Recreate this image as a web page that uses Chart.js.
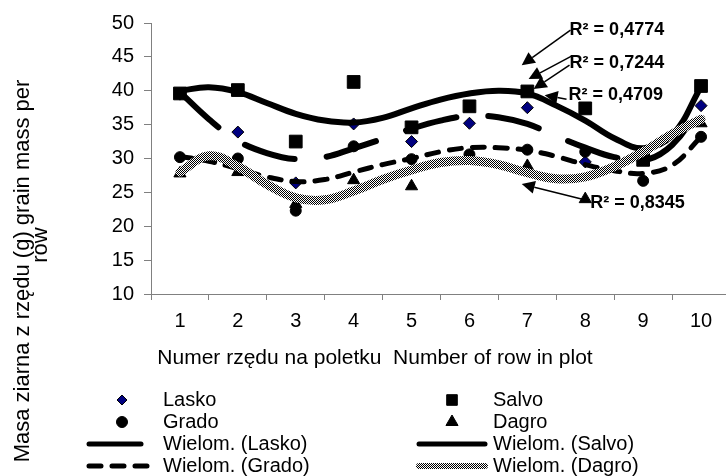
<!DOCTYPE html>
<html><head><meta charset="utf-8">
<script src="https://cdn.jsdelivr.net/npm/chart.js@4/dist/chart.umd.min.js"></script>
<style>html,body{margin:0;padding:0;overflow:hidden;background:#fff;width:726px;height:476px}canvas{display:block}</style>
</head><body>
<canvas id="c" width="740" height="476"></canvas>
<script>
// ---- data ----
const categories = ['1','2','3','4','5','6','7','8','9','10'];
const rowNumbers = [1,2,3,4,5,6,7,8,9,10];
const lasko = [39.5, 33.9, 26.4, 35.1, 32.5, 35.2, 37.5, 29.5, 29.8, 37.8];
const salvo = [39.6, 40.1, 32.5, 41.3, 34.6, 37.7, 39.9, 37.4, 29.8, 40.7];
const grado = [30.2, 30.0, 22.3, 31.8, 29.9, 30.6, 31.3, 31.0, 26.7, 33.2];
const dagro = [27.8, 28.0, 23.3, 26.8, 25.9, 30.3, 28.9, 24.0, 30.5, 35.2];
const trendX = [1,1.5,2,2.5,3,3.5,4,4.5,5,5.5,6,6.5,7,7.5,8,8.5,9,9.5,10];
const trendSalvo = [40.0,40.5,39.8,38.2,36.6,35.6,35.3,36.0,37.4,38.7,39.6,40.0,39.6,37.8,35.6,33.0,31.5,33.4,40.6];
const trendLasko = [39.8,35.8,32.6,30.8,29.9,30.2,31.5,32.9,34.4,35.6,36.3,36.1,35.1,33.3,31.6,30.2,29.7,32.0,37.8];
const trendGrado = [30.3,29.6,28.5,27.3,26.6,26.9,28.0,29.1,30.0,31.0,31.6,31.6,31.2,30.3,29.1,28.2,27.8,29.0,33.2];
const trendDagro = [28.0,30.4,28.8,26.2,24.2,23.9,25.2,26.9,28.3,29.4,29.7,29.1,27.9,27.0,27.3,28.8,31.0,33.6,35.8];
const yMin = 10, yMax = 50, yStep = 5;
const r2Texts = ['R² = 0,4774','R² = 0,7244','R² = 0,4709','R² = 0,8345'];
const xTitle = 'Numer rzędu na poletku  Number of row in plot';
const yTitle = ['Masa ziarna z rzędu (g) grain mass per', 'row'];

// ---- styling / layout ----
const FONT = "'Liberation Sans', Arial, sans-serif";
const AXIS = '#808080';
const canvas = document.getElementById('c');
const ctx0 = canvas.getContext('2d');
const pc = document.createElement('canvas'); pc.width = 2; pc.height = 2;
const pg = pc.getContext('2d');
pg.fillStyle = '#fff'; pg.fillRect(0,0,2,2);
pg.fillStyle = '#000'; pg.fillRect(0,0,1,1); pg.fillRect(1,1,1,1);
const dagroPattern = ctx0.createPattern(pc, 'repeat');

const pts = (xs, ys) => xs.map((x, i) => ({x, y: ys[i]}));

const series = {
  lasko:  {label:'Lasko', data: pts(rowNumbers, lasko), pointStyle:'rectRot', pointRadius:6, backgroundColor:'#000080', borderColor:'#000', pointBorderWidth:1},
  salvo:  {label:'Salvo', data: pts(rowNumbers, salvo), pointStyle:'rect', pointRadius:9, backgroundColor:'#000', borderColor:'#000', pointBorderWidth:1},
  grado:  {label:'Grado', data: pts(rowNumbers, grado), pointStyle:'circle', pointRadius:5.5, backgroundColor:'#000', borderColor:'#000', pointBorderWidth:1},
  dagro:  {label:'Dagro', data: pts(rowNumbers, dagro), pointStyle:'triangle', pointRadius:7, backgroundColor:'#000', borderColor:'#000', pointBorderWidth:1},
};
const trends = {
  lasko: {label:'Wielom. (Lasko)', data: pts(trendX, trendLasko), borderColor:'#000', borderWidth:6, borderDash:[52,32]},
  salvo: {label:'Wielom. (Salvo)', data: pts(trendX, trendSalvo), borderColor:'#000', borderWidth:6, borderDash:[]},
  grado: {label:'Wielom. (Grado)', data: pts(trendX, trendGrado), borderColor:'#000', borderWidth:5, borderDash:[12,11]},
  dagro: {label:'Wielom. (Dagro)', data: pts(trendX, trendDagro), borderColor:dagroPattern, borderWidth:9, borderDash:[]},
};
function markerDs(s){ return Object.assign({xAxisID:'x2', showLine:false, pointBackgroundColor:s.backgroundColor, pointBorderColor:s.borderColor}, s); }
function trendDs(t){ return Object.assign({xAxisID:'x2', showLine:true, pointRadius:0, tension:0.4, borderCapStyle:'round', borderJoinStyle:'round', fill:false}, t); }

const datasets = [
  trendDs(trends.dagro), trendDs(trends.grado), trendDs(trends.lasko), trendDs(trends.salvo),
  markerDs(series.salvo), markerDs(series.grado), markerDs(series.dagro), markerDs(series.lasko)
];

// annotations (positions in data units of the plot)
const r2Pos = [ {x:7.73, y:48.94}, {x:7.73, y:44.07}, {x:7.71, y:39.35}, {x:8.085, y:23.42} ];
const arrows = [
  {from:{x:7.745,y:48.94}, to:{x:6.902,y:43.78}},
  {from:{x:7.762,y:45.11}, to:{x:7.022,y:41.72}},
  {from:{x:7.728,y:43.78}, to:{x:7.108,y:40.24}},
  {from:{x:7.677,y:38.76}, to:{x:7.299,y:39.35}},
  {from:{x:8.004,y:23.86}, to:{x:6.903,y:26.22}},
];

function drawMarker(ctx, style, x, y, r, fill){
  ctx.save(); ctx.fillStyle = fill; ctx.strokeStyle = '#000'; ctx.lineWidth = 1;
  ctx.beginPath();
  if (style === 'rectRot'){ ctx.moveTo(x-r,y); ctx.lineTo(x,y-r); ctx.lineTo(x+r,y); ctx.lineTo(x,y+r); ctx.closePath(); }
  else if (style === 'rect'){ const s = r*Math.SQRT1_2; ctx.rect(x-s,y-s,2*s,2*s); }
  else if (style === 'circle'){ ctx.arc(x,y,r,0,Math.PI*2); }
  else if (style === 'triangle'){ ctx.moveTo(x, y-r); ctx.lineTo(x+r*0.866, y+r*0.5); ctx.lineTo(x-r*0.866, y+r*0.5); ctx.closePath(); }
  ctx.fill(); ctx.stroke(); ctx.restore();
}

const decor = {
  id:'decor',
  afterDraw(chart){
    const ctx = chart.ctx, xs = chart.scales.x2, ys = chart.scales.y;
    ctx.save();
    ctx.fillStyle = '#000';
    // axis titles
    ctx.font = '21px ' + FONT;
    ctx.textAlign = 'center'; ctx.textBaseline = 'alphabetic';
    ctx.fillText(xTitle, 375, 364);
    ctx.font = '22px ' + FONT;
    ctx.save(); ctx.translate(23, 271); ctx.rotate(-Math.PI/2); ctx.textBaseline='middle'; ctx.fillText(yTitle[0], 0, 0); ctx.restore();
    ctx.save(); ctx.translate(41, 245); ctx.rotate(-Math.PI/2); ctx.textBaseline='middle'; ctx.fillText(yTitle[1], 0, 0); ctx.restore();

    // R² labels and arrows
    ctx.font = 'bold 18px ' + FONT; ctx.textAlign='left'; ctx.textBaseline='middle';
    r2Texts.forEach((t,i)=> ctx.fillText(t, xs.getPixelForValue(r2Pos[i].x), ys.getPixelForValue(r2Pos[i].y)));
    arrows.forEach(a=>{
      const fx = xs.getPixelForValue(a.from.x), fy = ys.getPixelForValue(a.from.y);
      const tx = xs.getPixelForValue(a.to.x), ty = ys.getPixelForValue(a.to.y);
      const dx = tx-fx, dy = ty-fy, len = Math.hypot(dx,dy), ux = dx/len, uy = dy/len;
      const L = 13, W = 6.5, bx = tx-ux*L, by = ty-uy*L;
      ctx.strokeStyle='#000'; ctx.lineWidth=1.5;
      ctx.beginPath(); ctx.moveTo(fx,fy); ctx.lineTo(bx,by); ctx.stroke();
      ctx.beginPath(); ctx.moveTo(tx,ty); ctx.lineTo(bx-uy*W, by+ux*W); ctx.lineTo(bx+uy*W, by-ux*W); ctx.closePath(); ctx.fill();
    });

    // legend
    const cols = [122, 452], rows = [400, 422, 444, 466];
    const items = [
      {kind:'m', s:series.lasko, col:0, row:0, r:5},
      {kind:'m', s:series.salvo, col:1, row:0, r:7.5},
      {kind:'m', s:series.grado, col:0, row:1, r:5.5},
      {kind:'m', s:series.dagro, col:1, row:1, r:7},
      {kind:'l', s:trends.lasko, col:0, row:2},
      {kind:'l', s:trends.salvo, col:1, row:2},
      {kind:'l', s:trends.grado, col:0, row:3},
      {kind:'l', s:trends.dagro, col:1, row:3},
    ];
    ctx.font = '20px ' + FONT; ctx.textAlign='left'; ctx.textBaseline='middle';
    items.forEach(it=>{
      const cx = cols[it.col], cy = rows[it.row];
      if (it.kind === 'm') drawMarker(ctx, it.s.pointStyle, cx, cy, it.r, it.s.backgroundColor);
      else {
        ctx.save(); ctx.strokeStyle = it.s.borderColor; ctx.lineWidth = it.s === trends.dagro ? 6 : 5; ctx.lineCap='round';
        ctx.setLineDash(it.s.borderDash || []);
        ctx.beginPath(); ctx.moveTo(cx-33, cy); ctx.lineTo(cx+33, cy); ctx.stroke(); ctx.restore();
      }
      ctx.fillStyle='#000';
      ctx.fillText(it.s.label, cx+41, cy);
    });
    ctx.restore();
  }
};

new Chart(canvas, {
  type:'line',
  data:{ labels: categories, datasets },
  options:{
    responsive:false, animation:false, events:[],
    layout:{ padding:{ left:0, top:23, right:8, bottom:142 } },
    plugins:{ legend:{display:false}, tooltip:{enabled:false} },
    scales:{
      x:{ type:'category', offset:true, position:'bottom',
          grid:{ offset:true, drawOnChartArea:false, tickLength:6, color:AXIS },
          border:{ color:AXIS, width:1 },
          ticks:{ color:'#000', font:{family:FONT, size:20}, padding:9, maxRotation:0, autoSkip:false },
          afterFit(s){ s.height = 40; } },
      x2:{ type:'linear', display:false, min:0.5, max:10.5 },
      y:{ min:yMin, max:yMax,
          ticks:{ stepSize:yStep, color:'#000', font:{family:FONT, size:20}, padding:10 },
          grid:{ drawOnChartArea:false, tickLength:7, color:AXIS },
          border:{ color:AXIS, width:1 },
          afterFit(s){ s.width = 151; } }
    }
  },
  plugins:[decor]
});
</script>
</body></html>
